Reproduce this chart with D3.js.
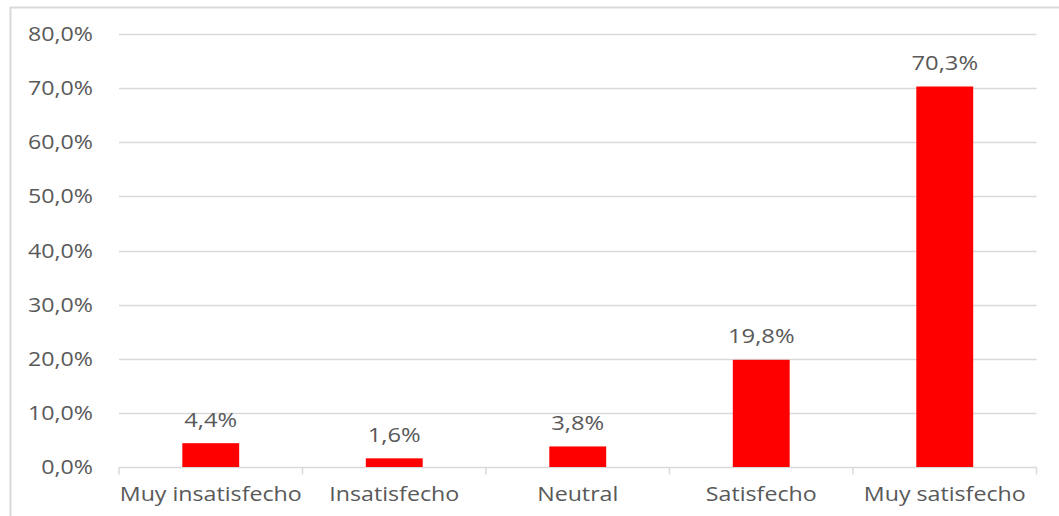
<!DOCTYPE html>
<html>
<head>
<meta charset="utf-8">
<script src="https://cdn.jsdelivr.net/npm/d3@7/dist/d3.min.js"></script>
<style>
  html, body { margin: 0; padding: 0; background: #fff; }
  svg { display: block; }
  text { font-family: "Open Sans", "Noto Sans", sans-serif; fill: #595959; }
</style>
</head>
<body>
<svg id="chart" width="1059" height="516"></svg>
<script>
// Satisfaction levels and share of responses (%)
const categories = ["Muy insatisfecho", "Insatisfecho", "Neutral", "Satisfecho", "Muy satisfecho"];
const values = [4.4, 1.6, 3.8, 19.8, 70.3];
const yTicks = [0, 10, 20, 30, 40, 50, 60, 70, 80];

const svg = d3.select("#chart");
const W = 1059, H = 516;
const plot = { left: 119, right: 1036.5, top: 34, bottom: 467 };
const stretch = 1.16; // wide lettering

const fmt = v => v.toFixed(1).replace(".", ",") + "%";

// Places a horizontally widened text label at (px, py)
function label(sel, px, py) {
  sel.attr("x", 0).attr("y", 0)
     .attr("transform", (d, i) => `translate(${px(d, i)},${py(d, i)}) scale(${stretch},1)`);
}

// Outer chart frame (extends past the right and bottom edges)
svg.append("rect")
  .attr("x", 10.5).attr("y", 7.5)
  .attr("width", W + 20).attr("height", H + 20)
  .attr("fill", "none").attr("stroke", "#d9d9d9").attr("stroke-width", 2);

const x = d3.scaleBand().domain(categories).range([plot.left, plot.right]).paddingInner(0).paddingOuter(0);
const y = d3.scaleLinear().domain([0, 80]).range([plot.bottom, plot.top]);

// Horizontal gridlines
svg.append("g")
  .selectAll("line")
  .data(yTicks.filter(t => t > 0))
  .join("line")
  .attr("x1", plot.left).attr("x2", plot.right)
  .attr("y1", d => Math.round(y(d)) + 0.5).attr("y2", d => Math.round(y(d)) + 0.5)
  .attr("stroke", "#d9d9d9").attr("stroke-width", 1.5);

// Y axis labels
svg.append("g")
  .selectAll("text")
  .data(yTicks)
  .join("text")
  .attr("text-anchor", "end")
  .attr("dy", "0.35em")
  .style("font-size", "20px")
  .text(fmt)
  .call(label, () => 93, d => y(d));

// X axis with category boundary ticks
const gx = svg.append("g").attr("transform", `translate(0,${Math.round(plot.bottom) + 0.5})`);
gx.append("line")
  .attr("x1", plot.left).attr("x2", plot.right)
  .attr("stroke", "#d9d9d9").attr("stroke-width", 1.5);
const bounds = categories.map(c => x(c)).concat([plot.right]);
gx.selectAll("line.tick")
  .data(bounds)
  .join("line")
  .attr("class", "tick")
  .attr("x1", d => d).attr("x2", d => d)
  .attr("y1", 0).attr("y2", 7)
  .attr("stroke", "#d9d9d9").attr("stroke-width", 1.5);
gx.selectAll("text")
  .data(categories)
  .join("text")
  .attr("text-anchor", "middle")
  .style("font-size", "20px")
  .text(d => d)
  .call(label, d => x(d) + x.bandwidth() / 2, () => 33);

// Bars
const barW = x.bandwidth() * 0.31;
const data = categories.map((c, i) => ({ c, v: values[i] }));
svg.append("g")
  .selectAll("rect")
  .data(data)
  .join("rect")
  .attr("x", d => x(d.c) + (x.bandwidth() - barW) / 2)
  .attr("y", d => y(d.v))
  .attr("width", barW)
  .attr("height", d => y(0) - y(d.v))
  .attr("fill", "#ff0000");

// Value labels
svg.append("g")
  .selectAll("text")
  .data(data)
  .join("text")
  .attr("text-anchor", "middle")
  .style("font-size", "20.5px")
  .text(d => fmt(d.v))
  .call(label, d => x(d.c) + x.bandwidth() / 2, d => y(d.v) - 16.5);
</script>
</body>
</html>
